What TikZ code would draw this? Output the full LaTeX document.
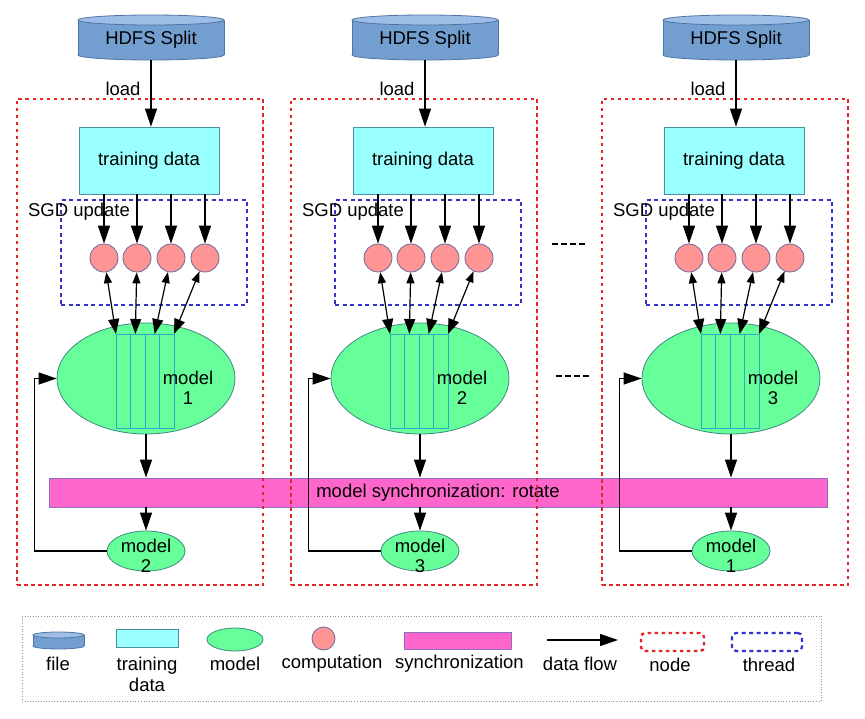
\documentclass[tikz,border=0pt]{standalone}
\usepackage{fontspec}
\setmainfont{Liberation Sans}
\usetikzlibrary{arrows.meta,shapes.geometric,calc}
\definecolor{cylbody}{HTML}{729FCF}
\definecolor{cyltop}{HTML}{9DBDE6}
\definecolor{cylline}{HTML}{4E74A6}
\definecolor{tdfill}{HTML}{99FFFF}
\definecolor{tdline}{HTML}{4A8FA0}
\definecolor{mfill}{HTML}{66FF99}
\definecolor{mline}{HTML}{3C8A80}
\definecolor{cfill}{HTML}{FF9494}
\definecolor{cline}{HTML}{6A6AA0}
\definecolor{sfill}{HTML}{FF66CC}
\definecolor{sline}{HTML}{8C70C0}
\definecolor{slicel}{HTML}{30A8C8}
\definecolor{nred}{HTML}{E02828}
\definecolor{tblue}{HTML}{3333CC}
\definecolor{legline}{HTML}{8098A8}
\begin{document}
\begin{tikzpicture}[x=1pt,y=-1pt,
  txt/.style={font=\fontsize{18.5pt}{20.5pt}\selectfont, inner sep=0pt, align=center},
  flow/.style={line width=1.2pt, -{Triangle[length=18pt,width=12pt]}},
  dflow/.style={line width=1.2pt, {Triangle[length=11pt,width=8pt]}-{Triangle[length=15pt,width=11pt]}},
  tdbox/.style={rectangle, fill=tdfill, draw=tdline, line width=0.8pt, minimum width=140pt, minimum height=67pt, inner sep=0pt},
  modelell/.style={ellipse, fill=mfill, draw=mline, line width=0.8pt, inner sep=0pt},
  comp/.style={circle, fill=cfill, draw=cline, line width=0.8pt, minimum size=28pt, inner sep=0pt},
  slicebox/.style={rectangle, draw=slicel, line width=0.8pt, minimum width=14.5pt, minimum height=94pt, inner sep=0pt},
  syncbar/.style={rectangle, fill=sfill, draw=sline, line width=0.8pt, inner sep=0pt},
  nodebox/.style={rectangle, draw=nred, line width=2.4pt, dash pattern=on 3.5pt off 3.5pt, inner sep=0pt},
  threadbox/.style={rectangle, draw=tblue, line width=2.2pt, dash pattern=on 4pt off 3.5pt, inner sep=0pt},
  cylpart/.style={fill=cylbody, draw=cylline, line width=0.8pt},
]
\useasboundingbox (0,0) rectangle (865,719);

% synchronization bar
\node[syncbar, minimum width=778pt, minimum height=29pt] (sync) at (438,492.5) {};
\node[txt] (synctxt) at (438,493) {model synchronization: rotate};

\foreach \o/\n/\k in {0/1/2, 274/2/3, 585/3/1}{
  % node (machine) box
  \node[nodebox, minimum width=246pt, minimum height=486pt] (nb\n) at (140+\o,342) {};
  % HDFS cylinder
  \filldraw[cylpart] (151+\o,55) ellipse [x radius=73pt, y radius=5pt];
  \fill[cylbody] (78+\o,20) rectangle (224+\o,55);
  \draw[cylline, line width=0.8pt] (78+\o,20) -- (78+\o,55) (224+\o,20) -- (224+\o,55);
  \filldraw[fill=cyltop, draw=cylline, line width=0.8pt] (151+\o,20) ellipse [x radius=73pt, y radius=5pt];
  \node[txt, minimum width=146pt, minimum height=40pt] (hdfs\n) at (151+\o,40) {HDFS Split};
  \node[txt] (load\n) at (123+\o,89) {load};
  % training data
  \node[tdbox] (td\n) at (149+\o,160.5) {};
  \node[txt] (tdt\n) at (149+\o,160.5) {training data};
  \draw[flow] (hdfs\n.south) -- (hdfs\n.south |- td\n.north);
  % thread box
  \node[threadbox, minimum width=186pt, minimum height=105pt] (tb\n) at (154+\o,252.5) {};
  \node[txt] (sgd\n) at (79+\o,212) {SGD update};
  % computations
  \foreach \i/\cx in {1/104,2/137,3/171,4/205}{
    \node[comp] (c\n-\i) at (\cx+\o,258) {};
    \draw[flow] (c\n-\i.north |- td\n.south) -- (c\n-\i.north);
  }
  % model
  \node[modelell, minimum width=178pt, minimum height=111pt] (m\n) at (146+\o,378.5) {};
  \foreach \i in {1,...,4}{
    \node[slicebox] (s\n-\i) at ({116+\o+(\i-0.5)*14.5},381) {};
    \coordinate (t\n-\i) at ({116+\o+(\i-1)*19.33},334);
    \draw[dflow] (c\n-\i) -- (t\n-\i);
  }
  \node[txt] (ml\n) at (188+\o,388) {model\\\n};
  % arrows to and from synchronization
  \node[modelell, minimum width=78pt, minimum height=40pt] (sm\n) at (146+\o,551) {};
  \node[txt] (sml\n) at (146+\o,556) {model\\\k};
  \draw[flow] (m\n.south) -- (m\n.south |- sync.north);
  \draw[flow] (sync.south -| sm\n.north) -- (sm\n.north);
  \draw[flow] (sm\n.west) -| ($(m\n.west)+(-22,0)$) -- (m\n.west);
}

% ellipsis dashes
\draw[line width=1.5pt, dash pattern=on 6pt off 3pt] (552,244) -- (585,244);
\draw[line width=1.5pt, dash pattern=on 6pt off 3pt] (556,376) -- (589,376);

% legend
\node[draw=legline, line width=0.7pt, dotted, minimum width=799pt, minimum height=85pt, inner sep=0pt] (legend) at (421.5,658.5) {};
\filldraw[cylpart] (58.5,646) ellipse [x radius=25.5pt, y radius=3pt];
\fill[cylbody] (33,635) rectangle (84,646);
\draw[cylline, line width=0.8pt] (33,635) -- (33,646) (84,635) -- (84,646);
\filldraw[fill=cyltop, draw=cylline, line width=0.8pt] (58.5,635) ellipse [x radius=25.5pt, y radius=3pt];
\node[txt] (lfile) at (58,664) {file};
\node[tdbox, minimum width=62pt, minimum height=18pt] (ltd) at (147,638) {};
\node[txt] (ltdt) at (147,674.5) {training\\data};
\node[modelell, minimum width=56pt, minimum height=23pt] (lm) at (235,639.5) {};
\node[txt] (lmt) at (235,664) {model};
\node[comp, minimum size=23pt] (lc) at (323.5,638.5) {};
\node[txt] (lct) at (332,664) {computation};
\node[syncbar, minimum width=107pt, minimum height=17pt] (ls) at (457.5,640.5) {};
\node[txt] (lst) at (459.5,664) {synchronization};
\coordinate (la1) at (547,640);
\coordinate (la2) at (618,640);
\draw[flow] (la1) -- (la2);
\node[txt] (lat) at (580,664) {data flow};
\node[nodebox, rounded corners=4pt, minimum width=63pt, minimum height=18pt] (ln) at (672.5,642) {};
\node[txt] (lnt) at (670,665) {node};
\node[threadbox, rounded corners=4pt, minimum width=70pt, minimum height=18pt] (lt) at (767,642) {};
\node[txt] (ltt) at (769,665) {thread};
\end{tikzpicture}
\end{document}
